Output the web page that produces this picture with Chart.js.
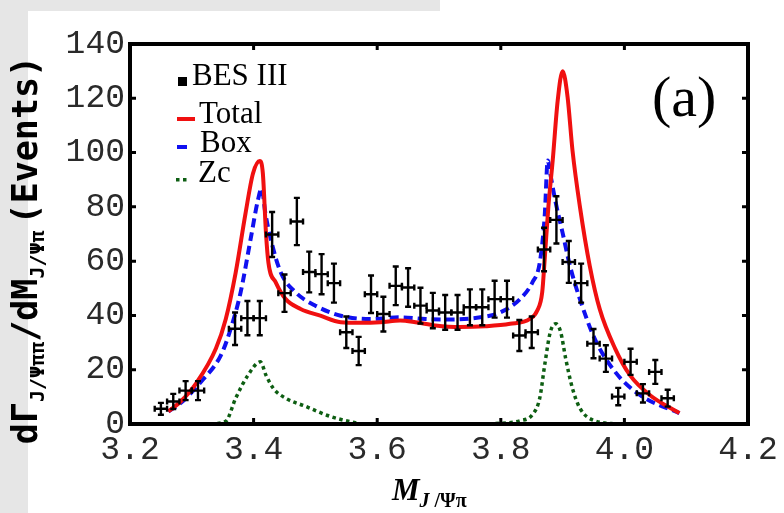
<!DOCTYPE html>
<html>
<head>
<meta charset="utf-8">
<script src="https://cdn.jsdelivr.net/npm/chart.js@4.4.1/dist/chart.umd.min.js"></script>
<style>
    html, body { margin: 0; padding: 0; background: #fff; }
    #wrap { width: 784px; height: 513px; }
</style>
</head>
<body>
<div id="wrap"><canvas id="chart" width="784" height="513"></canvas></div>
<script>
// BES III data points (M_J/psi pi, events) with estimated errors
const besM = [3.25, 3.27, 3.29, 3.31, 3.37, 3.39, 3.41, 3.43, 3.45, 3.47, 3.49, 3.51, 3.53, 3.55, 3.57, 3.59, 3.61, 3.63, 3.65, 3.67,
    3.69, 3.71, 3.73, 3.75, 3.77, 3.79, 3.81, 3.83, 3.85, 3.87, 3.89, 3.91, 3.93, 3.95, 3.97, 3.99, 4.01, 4.03, 4.05, 4.07];
const besY = [5.6, 8.3, 12.3, 12.3, 35.1, 39.0, 39.0, 69.8, 48.2, 74.6, 56.0, 55.2, 51.9, 33.8, 26.9, 47.8, 40.5, 50.9, 50.3, 43.6,
    41.8, 41.1, 41.1, 43.0, 43.0, 46.0, 46.0, 32.6, 33.8, 64.3, 75.2, 59.7, 51.9, 29.6, 24.1, 10.1, 22.9, 11.3, 19.2, 9.5];
const besErr = [2.2, 2.8, 3.5, 3.5, 6.0, 6.3, 6.3, 8.3, 6.9, 8.7, 7.5, 7.4, 7.2, 5.8, 5.2, 6.9, 6.4, 7.1, 7.1, 6.6,
    6.5, 6.4, 6.4, 6.6, 6.6, 6.8, 6.8, 5.7, 5.8, 8.0, 8.7, 7.7, 7.2, 5.4, 4.9, 3.2, 4.8, 3.4, 4.4, 3.1];
const binHalf = 0.01;

// Total curve
const totalM = [3.262, 3.282, 3.307, 3.339, 3.355, 3.371, 3.387, 3.399, 3.410, 3.415, 3.420, 3.424, 3.436, 3.452, 3.476, 3.508,
    3.541, 3.573, 3.605, 3.637, 3.662, 3.694, 3.734, 3.775, 3.815, 3.847, 3.859, 3.867, 3.871, 3.877, 3.884, 3.892, 3.900,
    3.908, 3.916, 3.928, 3.944, 3.960, 3.985, 4.009, 4.041, 4.089];
const totalY = [4.6, 8.3, 15.0, 27.8, 38.7, 55.8, 77.7, 92.3, 96.9, 92.3, 70.4, 59.4, 52.1, 46.0, 42.4, 39.9,
    37.5, 37.3, 37.5, 38.1, 37.5, 36.3, 35.7, 36.0, 36.9, 38.7, 41.8, 48.5, 60.6, 80.1, 97.1, 119.0, 130.0,
    120.6, 100.8, 80.1, 58.2, 42.4, 27.8, 18.0, 10.7, 4.0];

// Box curve
const boxM = [3.262, 3.282, 3.315, 3.347, 3.363, 3.379, 3.395, 3.407, 3.413, 3.419, 3.428, 3.444, 3.468, 3.500, 3.541, 3.589,
    3.637, 3.678, 3.718, 3.767, 3.799, 3.831, 3.851, 3.863, 3.871, 3.876, 3.880, 3.888, 3.900, 3.912, 3.928, 3.952, 3.985,
    4.025, 4.089];
const boxY = [4.6, 7.7, 15.6, 25.3, 35.1, 48.5, 67.9, 82.5, 86.8, 77.7, 67.9, 55.8, 48.5, 43.6, 39.9, 38.7,
    39.3, 38.7, 38.5, 39.3, 41.1, 46.0, 52.1, 59.4, 76.5, 97.1, 92.3, 82.5, 70.4, 58.2, 46.0, 31.4, 19.2,
    10.7, 4.0];

// Zc curve (null = gap)
const zcM = [3.33, 3.355, 3.371, 3.391, 3.411, 3.420, 3.432, 3.452, 3.484, 3.524, 3.557, 3.575, 3.68,
    3.78, 3.831, 3.851, 3.863, 3.871, 3.880, 3.889, 3.897, 3.905, 3.916, 3.928, 3.952, 3.99];
const zcY = [0, 1.0, 9.5, 18.0, 22.9, 18.0, 13.1, 9.5, 6.5, 2.8, 0.8, 0, null,
    0, 1.2, 3.4, 9.5, 21.7, 33.8, 36.9, 33.8, 24.1, 13.1, 5.8, 1.2, 0];

const xTicks = [3.2, 3.4, 3.6, 3.8, 4.0, 4.2];
const yTicks = [0, 20, 40, 60, 80, 100, 120, 140];

const toPts = (xs, ys) => xs.map((x, i) => ({ x: x, y: ys[i] }));

const RED = "#f01010";
const BLUE = "#1010f0";
const GREEN = "#0d5e12";

const decor = {
    id: "decor",
    beforeDraw(chart) {
        const ctx = chart.ctx;
        ctx.save();
        // grey paper strips like the scanned page
        ctx.fillStyle = "#e6e6e6";
        ctx.fillRect(0, 0, 440, 11);
        ctx.fillRect(0, 0, 28, 513);
        ctx.restore();
    },
    afterDatasetsDraw(chart) {
        const ctx = chart.ctx;
        const xs = chart.scales.x;
        const ys = chart.scales.y;
        const a = chart.chartArea;

        ctx.save();
        // error bars
        ctx.strokeStyle = "#000";
        ctx.lineWidth = 2.4;
        for (let i = 0; i < besM.length; i++) {
            const px = xs.getPixelForValue(besM[i]);
            const py = ys.getPixelForValue(besY[i]);
            const x0 = xs.getPixelForValue(besM[i] - binHalf);
            const x1 = xs.getPixelForValue(besM[i] + binHalf);
            const y0 = ys.getPixelForValue(besY[i] - besErr[i]);
            const y1 = ys.getPixelForValue(besY[i] + besErr[i]);
            ctx.beginPath();
            ctx.moveTo(x0, py); ctx.lineTo(x1, py);
            ctx.moveTo(px, y0); ctx.lineTo(px, y1);
            // caps
            ctx.moveTo(x0, py - 3); ctx.lineTo(x0, py + 3);
            ctx.moveTo(x1, py - 3); ctx.lineTo(x1, py + 3);
            ctx.moveTo(px - 3, y0); ctx.lineTo(px + 3, y0);
            ctx.moveTo(px - 3, y1); ctx.lineTo(px + 3, y1);
            ctx.stroke();
        }

        // frame
        ctx.lineWidth = 4;
        ctx.strokeRect(a.left, a.top, a.right - a.left, a.bottom - a.top);
        ctx.lineWidth = 3;
        ctx.beginPath();
        for (const t of xTicks.slice(1, -1)) {
            const p = xs.getPixelForValue(t);
            ctx.moveTo(p, a.bottom); ctx.lineTo(p, a.bottom - 6);
            ctx.moveTo(p, a.top); ctx.lineTo(p, a.top + 6);
        }
        for (const t of yTicks.slice(1, -1)) {
            const p = ys.getPixelForValue(t);
            ctx.moveTo(a.left, p); ctx.lineTo(a.left + 6, p);
            ctx.moveTo(a.right, p); ctx.lineTo(a.right - 6, p);
        }
        ctx.stroke();

        // legend
        ctx.fillStyle = "#000";
        ctx.fillRect(178, 77, 9, 9);
        ctx.font = "31px 'Liberation Serif'";
        ctx.textBaseline = "alphabetic";
        ctx.fillText("BES III", 192, 85);
        ctx.fillText("Total", 199, 123);
        ctx.fillText("Box", 200, 152);
        ctx.fillText("Zc", 198, 182);
        ctx.lineWidth = 4;
        ctx.strokeStyle = RED;
        ctx.beginPath(); ctx.moveTo(177, 119); ctx.lineTo(195, 119); ctx.stroke();
        ctx.strokeStyle = BLUE;
        ctx.beginPath(); ctx.moveTo(177, 147); ctx.lineTo(187, 147); ctx.stroke();
        ctx.fillStyle = GREEN;
        ctx.fillRect(176, 178, 3.5, 3.5);
        ctx.fillRect(183, 178, 3.5, 3.5);

        ctx.fillStyle = "#000";
        ctx.font = "58px 'Liberation Serif'";
        ctx.fillText("(a)", 652, 116);

        // x title
        ctx.font = "bold italic 31px 'Liberation Serif'";
        ctx.fillText("M", 392, 500);
        let w = ctx.measureText("M").width;
        ctx.font = "bold italic 20px 'Liberation Serif'";
        ctx.fillText("J", 392 + w, 507);
        let w2 = ctx.measureText("J").width;
        ctx.font = "bold 20px 'Liberation Serif'";
        ctx.fillText(" /Ψπ", 392 + w + w2, 507);

        // y title, rotated
        ctx.translate(37, 250);
        ctx.rotate(-Math.PI / 2);
        const big = "bold 35px 'DejaVu Sans Mono'";
        const small = "bold 20px 'DejaVu Sans Mono'";
        const parts = [
            ["dΓ", big, 0, 0],
            ["J/Ψππ", small, 7, 0],
            ["/dM", big, 0, 0],
            ["J/Ψπ", small, 7, 6],
            ["(Events)", big, 0, 0],
        ];
        let total = 0;
        for (const p of parts) { ctx.font = p[1]; total += ctx.measureText(p[0]).width + p[3]; }
        let x = -total / 2;
        for (const p of parts) {
            ctx.font = p[1];
            ctx.fillText(p[0], x, p[2]);
            x += ctx.measureText(p[0]).width + p[3];
        }
        ctx.restore();
    },
};

const ctx = document.getElementById("chart").getContext("2d");
new Chart(ctx, {
    type: "line",
    data: {
        datasets: [
            {
                label: "Total",
                data: toPts(totalM, totalY),
                borderColor: RED,
                borderWidth: 4,
                pointRadius: 0,
                cubicInterpolationMode: "monotone",
                fill: false,
            },
            {
                label: "Box",
                data: toPts(boxM, boxY),
                borderColor: BLUE,
                borderWidth: 4,
                borderDash: [9, 5],
                pointRadius: 0,
                cubicInterpolationMode: "monotone",
                fill: false,
            },
            {
                label: "Zc",
                data: toPts(zcM, zcY),
                borderColor: GREEN,
                borderWidth: 3.5,
                borderDash: [3.5, 3.5],
                pointRadius: 0,
                spanGaps: false,
                cubicInterpolationMode: "monotone",
                fill: false,
            },
        ],
    },
    options: {
        responsive: false,
        animation: false,
        events: [],
        layout: { padding: { top: 44, right: 36, left: 0, bottom: 0 } },
        plugins: {
            legend: { display: false },
            tooltip: { enabled: false },
        },
        scales: {
            x: {
                type: "linear",
                min: 3.2,
                max: 4.2,
                afterFit: (s) => { s.height = 89; },
                afterBuildTicks: (s) => { s.ticks = xTicks.map((v) => ({ value: v })); },
                grid: { display: false, drawTicks: false },
                border: { display: false },
                ticks: {
                    padding: 6,
                    color: "#2a2a2a",
                    font: { family: "'Liberation Mono'", size: 33 },
                    callback: (v) => v.toFixed(1),
                },
            },
            y: {
                type: "linear",
                min: 0,
                max: 140,
                afterFit: (s) => { s.width = 130; },
                afterBuildTicks: (s) => { s.ticks = yTicks.map((v) => ({ value: v })); },
                grid: { display: false, drawTicks: false },
                border: { display: false },
                ticks: {
                    padding: 5,
                    color: "#2a2a2a",
                    font: { family: "'Liberation Mono'", size: 33 },
                },
            },
        },
    },
    plugins: [decor],
});
</script>
</body>
</html>
